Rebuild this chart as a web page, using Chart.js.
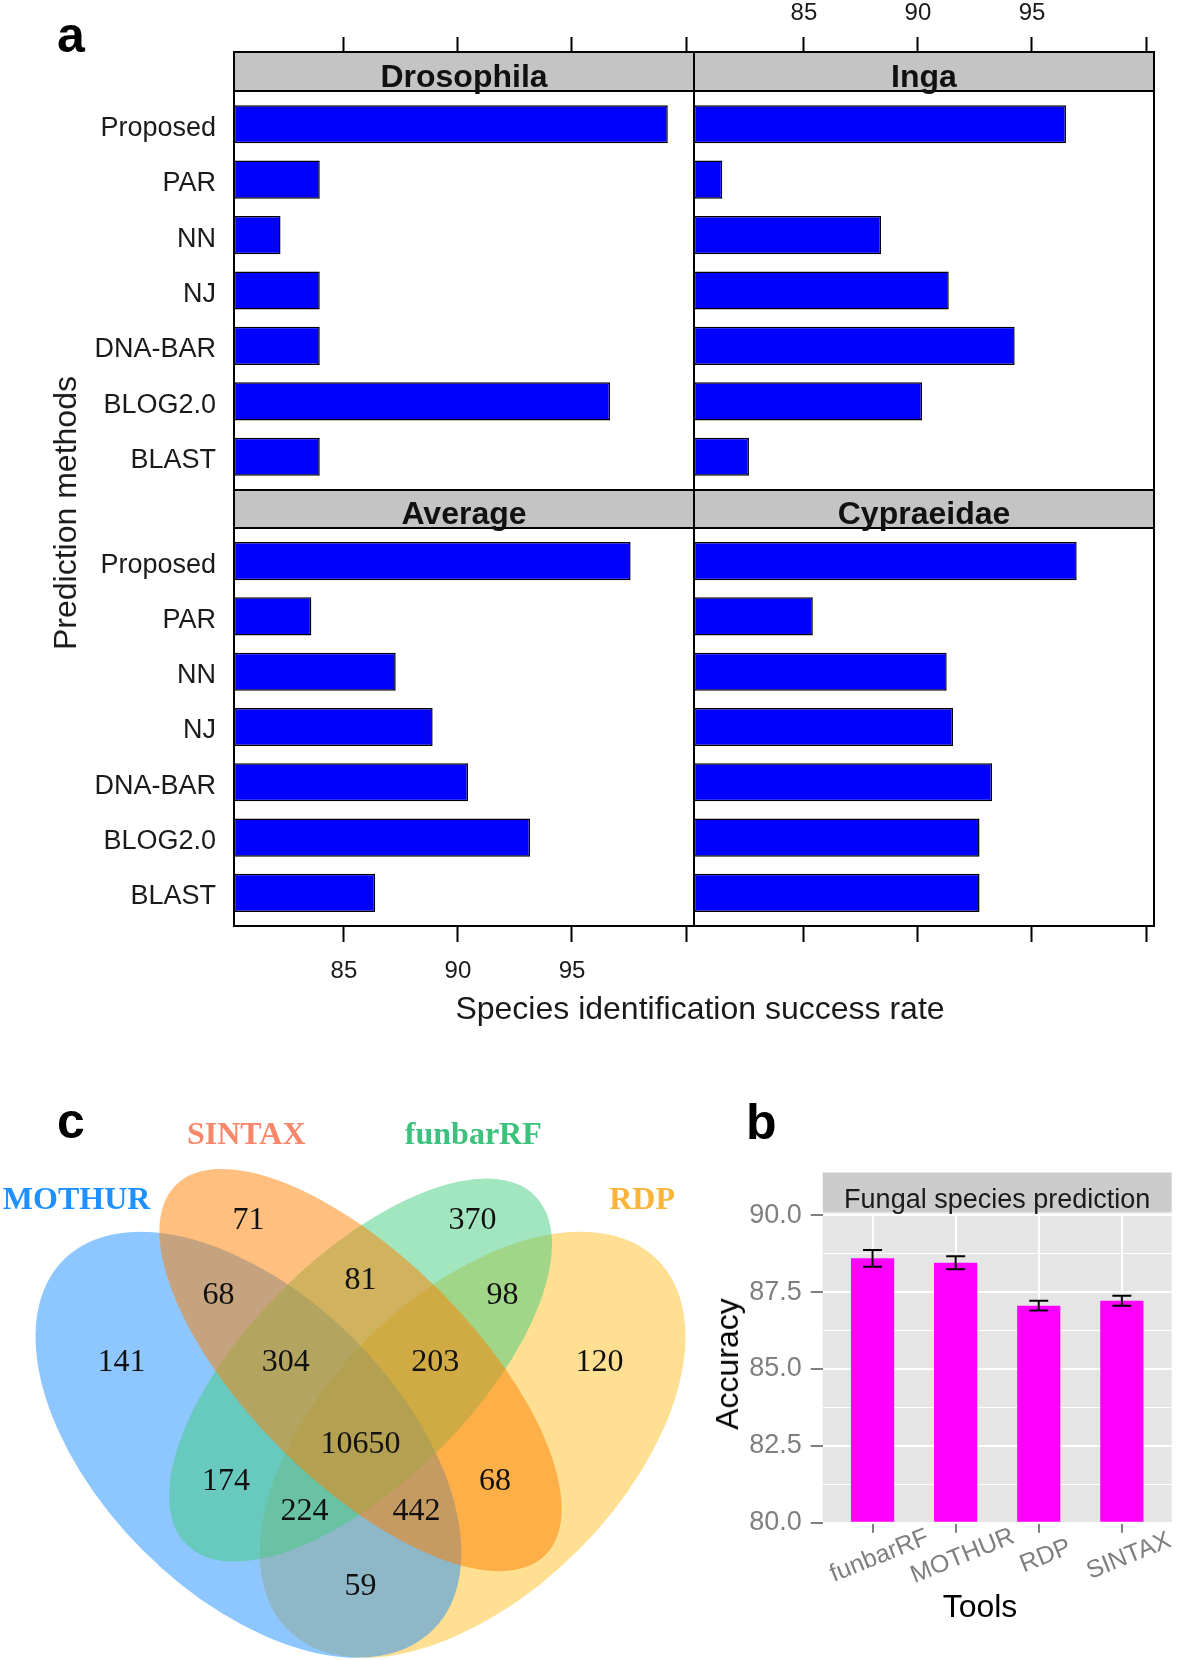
<!DOCTYPE html>
<html>
<head>
<meta charset="utf-8">
<script src="https://cdn.jsdelivr.net/npm/chart.js@4.4.1/dist/chart.umd.min.js"></script>
<style>
  html, body { margin: 0; padding: 0; background: #fff; }
  body { width: 1181px; height: 1660px; position: relative; overflow: hidden; font-family: 'Liberation Sans', Arial, sans-serif; }
  canvas { position: absolute; }
  .lbl { position: absolute; white-space: nowrap; line-height: 1; color: #1a1a1a; }
  .letter { font-weight: bold; font-size: 50px; color: #000; }
  .rot { transform: translate(-50%, -50%) rotate(-90deg); }
  .ctr { transform: translateX(-50%); }
</style>
</head>
<body>
<canvas id="drosophila" width="700" height="500" style="left:0;top:0"></canvas>
<canvas id="inga" width="493" height="500" style="left:688px;top:0"></canvas>
<canvas id="average" width="700" height="560" style="left:0;top:480px"></canvas>
<canvas id="cypraeidae" width="493" height="560" style="left:688px;top:480px"></canvas>
<canvas id="venn" width="740" height="620" style="left:0;top:1040px"></canvas>
<canvas id="fungal" width="436" height="560" style="left:745px;top:1100px"></canvas>

<div class="lbl letter" style="left:57px;top:10px">a</div>
<div class="lbl letter" style="left:57px;top:1096px">c</div>
<div class="lbl letter" style="left:746px;top:1097px">b</div>
<div class="lbl rot" style="left:65px;top:513px;font-size:32px">Prediction methods</div>
<div class="lbl ctr" style="left:700px;top:992px;font-size:32px">Species identification success rate</div>
<div class="lbl rot" style="left:727px;top:1364px;font-size:32px;color:#000">Accuracy</div>
<div class="lbl ctr" style="left:980px;top:1590px;font-size:32px;color:#000">Tools</div>

<script>
// ======================================================
// DATA
// ======================================================
// panel a: species identification success rate per method
const methods = ['Proposed', 'PAR', 'NN', 'NJ', 'DNA-BAR', 'BLOG2.0', 'BLAST'];
const drosophila = [99.2, 83.94, 82.22, 83.94, 83.94, 96.67, 83.94];
const inga = [96.49, 81.42, 88.38, 91.35, 94.24, 90.18, 82.59];
const average = [97.57, 83.57, 87.27, 88.89, 90.44, 93.16, 86.37];
const cypraeidae = [96.96, 85.39, 91.26, 91.54, 93.25, 92.70, 92.70];
const rateTicks = [85, 90, 95, 100];
const rateTickLabels = ['85', '90', '95', ''];
const rateMin = 80.18, rateMax = 100.35;

// panel b: fungal species prediction accuracy
const tools = ['funbarRF', 'MOTHUR', 'RDP', 'SINTAX'];
const accuracy = [88.6, 88.46, 87.06, 87.22];
const accuracyErr = [0.27, 0.21, 0.16, 0.16];
const accTicks = [80, 81.25, 82.5, 83.75, 85, 86.25, 87.5, 88.75, 90];

// panel c: venn region counts
const vennSets = ['MOTHUR', 'SINTAX', 'funbarRF', 'RDP'];
const vennCounts = [71, 81, 370, 68, 304, 10650, 203, 98, 141, 174, 224, 59, 442, 68, 120];

// venn layout (unit square, VennDiagram quad layout)
const vennLabelPos = [
  [0.35, 0.77], [0.5, 0.69], [0.65, 0.77], [0.31, 0.67], [0.40, 0.58],
  [0.5, 0.47], [0.60, 0.58], [0.69, 0.67], [0.18, 0.58], [0.32, 0.42],
  [0.425, 0.38], [0.5, 0.28], [0.575, 0.38], [0.68, 0.42], [0.82, 0.58]
];
const vennSetPos = [[0.12, 0.796], [0.347, 0.884], [0.651, 0.884], [0.877, 0.797]];
const vennSetColors = ['#1e90ff', '#f7876a', '#3dc27e', '#f9b43c'];
// drawing order: RDP, MOTHUR, funbarRF, SINTAX
const vennShapes = [
  { cx: 0.65, cy: 0.47, a: 0.35, b: 0.20, rot: 45, fill: 'rgba(255,193,37,0.5)' },
  { cx: 0.35, cy: 0.47, a: 0.35, b: 0.20, rot: 135, fill: 'rgba(30,144,255,0.5)' },
  { cx: 0.50, cy: 0.57, a: 0.33, b: 0.15, rot: 45, fill: 'rgba(67,205,128,0.5)' },
  { cx: 0.50, cy: 0.57, a: 0.35, b: 0.15, rot: 135, fill: 'rgba(255,127,0,0.5)' }
];

Chart.defaults.font.family = "'Liberation Sans', Arial, sans-serif";

// ======================================================
// PANEL A - lattice style facets
// ======================================================
const stripPlugin = {
  id: 'strip',
  afterDraw(chart, args, o) {
    const { ctx, chartArea: a } = chart;
    ctx.save();
    ctx.fillStyle = '#c4c4c4';
    ctx.fillRect(a.left, a.top - o.height, a.right - a.left, o.height);
    ctx.strokeStyle = '#000';
    ctx.lineWidth = 2;
    ctx.strokeRect(a.left, a.top - o.height, a.right - a.left, o.height);
    ctx.strokeRect(a.left, a.top, a.right - a.left, a.bottom - a.top);
    ctx.fillStyle = '#111';
    ctx.font = "bold 32px 'Liberation Sans', Arial";
    ctx.textAlign = 'center';
    ctx.textBaseline = 'alphabetic';
    ctx.fillText(o.title, (a.left + a.right) / 2, a.top - 4.5);
    ctx.restore();
  }
};

function latticePanel(id, title, values, o) {
  return new Chart(document.getElementById(id), {
    type: 'bar',
    data: {
      datasets: [{
        data: values.map((v, i) => ({ x: v, y: i + 1 })),
        base: rateMin,
        backgroundColor: '#0000ff',
        borderColor: '#000',
        borderWidth: 1.5,
        borderSkipped: false,
        barPercentage: 0.69,
        categoryPercentage: 1
      }]
    },
    options: {
      indexAxis: 'y', responsive: false, animation: false, events: [],
      layout: { padding: o.pad, autoPadding: false },
      plugins: { legend: { display: false }, tooltip: { enabled: false }, strip: { title, height: o.stripH } },
      scales: {
        x: {
          type: 'linear', position: o.xPos, min: rateMin, max: rateMax, offset: false,
          afterBuildTicks: s => { s.ticks = rateTicks.map(v => ({ value: v })); },
          afterFit: s => { s.height = o.xH; s.paddingLeft = 0; s.paddingRight = 0; },
          grid: { drawOnChartArea: false, tickLength: o.tickLen, tickWidth: 2, tickColor: '#000' },
          border: { display: false },
          ticks: {
            padding: o.tickPad, color: '#1a1a1a', maxRotation: 0,
            font: { size: 24, lineHeight: 1 },
            callback: v => o.xLabels ? rateTickLabels[rateTicks.indexOf(v)] : ''
          }
        },
        y: {
          type: 'linear', reverse: true, min: 0.4, max: 7.6, offset: false, display: o.yLabels,
          afterBuildTicks: s => { s.ticks = methods.map((m, i) => ({ value: i + 1 })); },
          afterFit: s => { s.width = o.yLabels ? 234 : 0; s.paddingTop = 0; s.paddingBottom = 0; },
          grid: { display: false, offset: false },
          border: { display: false },
          ticks: {
            padding: 10, labelOffset: 4, color: '#1a1a1a', font: { size: 27, lineHeight: 1 },
            callback: v => methods[v - 1]
          }
        }
      }
    },
    plugins: [stripPlugin]
  });
}

latticePanel('drosophila', 'Drosophila', drosophila, {
  pad: { left: 0, top: 0, right: 6, bottom: 10 }, stripH: 39, xPos: 'top', xH: 91,
  tickLen: 54, tickPad: 12, xLabels: false, yLabels: true
});
latticePanel('inga', 'Inga', inga, {
  pad: { left: 6, top: 0, right: 27, bottom: 10 }, stripH: 39, xPos: 'top', xH: 91,
  tickLen: 54, tickPad: 12, xLabels: true, yLabels: false
});
latticePanel('average', 'Average', average, {
  pad: { left: 0, top: 48, right: 6, bottom: 0 }, stripH: 38, xPos: 'bottom', xH: 114,
  tickLen: 16, tickPad: 17, xLabels: true, yLabels: true
});
latticePanel('cypraeidae', 'Cypraeidae', cypraeidae, {
  pad: { left: 6, top: 48, right: 27, bottom: 0 }, stripH: 38, xPos: 'bottom', xH: 114,
  tickLen: 16, tickPad: 17, xLabels: false, yLabels: false
});

// ======================================================
// PANEL C - venn diagram
// ======================================================
const vennPlugin = {
  id: 'vennShapes',
  beforeDatasetsDraw(chart) {
    const { ctx, scales: { x, y } } = chart;
    const ux = x.getPixelForValue(1) - x.getPixelForValue(0);
    const uy = y.getPixelForValue(0) - y.getPixelForValue(1);
    ctx.save();
    vennShapes.forEach(s => {
      ctx.beginPath();
      ctx.ellipse(x.getPixelForValue(s.cx), y.getPixelForValue(s.cy), s.a * ux, s.b * uy,
        -s.rot * Math.PI / 180, 0, 2 * Math.PI);
      ctx.fillStyle = s.fill;
      ctx.fill();
    });
    ctx.restore();
  },
  afterDatasetsDraw(chart) {
    const { ctx, scales: { x, y } } = chart;
    const meta = chart.getDatasetMeta(0);
    ctx.save();
    ctx.textAlign = 'center';
    ctx.textBaseline = 'middle';
    ctx.fillStyle = '#111';
    ctx.font = "32px 'Liberation Serif', 'Times New Roman', serif";
    meta.data.forEach((pt, i) => ctx.fillText(String(vennCounts[i]), pt.x, pt.y));
    ctx.font = "bold 32px 'Liberation Serif', 'Times New Roman', serif";
    vennSets.forEach((name, i) => {
      ctx.fillStyle = vennSetColors[i];
      ctx.fillText(name, x.getPixelForValue(vennSetPos[i][0]), y.getPixelForValue(vennSetPos[i][1]));
    });
    ctx.restore();
  }
};

new Chart(document.getElementById('venn'), {
  type: 'scatter',
  data: { datasets: [{ data: vennLabelPos.map(p => ({ x: p[0], y: p[1] })), pointRadius: 0, pointHoverRadius: 0 }] },
  options: {
    responsive: false, animation: false, events: [],
    layout: { padding: 0, autoPadding: false },
    plugins: { legend: { display: false }, tooltip: { enabled: false } },
    scales: {
      x: { type: 'linear', display: false, min: 0.0174, max: 1.0080 },
      y: { type: 'linear', display: false, min: 0.1818, max: 1.0118 }
    }
  },
  plugins: [vennPlugin]
});

// ======================================================
// PANEL B - ggplot style bars with error bars
// ======================================================
const isMajor = v => Math.abs(v / 2.5 - Math.round(v / 2.5)) < 1e-6;

const ggPlugin = {
  id: 'ggPanel',
  beforeDraw(chart) {
    const { ctx, chartArea: a } = chart;
    ctx.save();
    ctx.fillStyle = '#e5e5e5';
    ctx.fillRect(a.left, a.top, a.right - a.left, a.bottom - a.top);
    ctx.fillStyle = '#cccccc';
    ctx.fillRect(a.left, a.top - 41, a.right - a.left, 40);
    ctx.fillStyle = '#1a1a1a';
    ctx.font = "27px 'Liberation Sans', Arial";
    ctx.textAlign = 'center';
    ctx.textBaseline = 'alphabetic';
    ctx.fillText('Fungal species prediction', (a.left + a.right) / 2, a.top - 5.5);
    ctx.restore();
  },
  afterDatasetsDraw(chart) {
    const { ctx, scales: { x, y } } = chart;
    ctx.save();
    ctx.strokeStyle = '#000';
    ctx.lineWidth = 2;
    accuracy.forEach((v, i) => {
      const px = x.getPixelForValue(i + 1);
      const top = y.getPixelForValue(v + accuracyErr[i]);
      const bot = y.getPixelForValue(v - accuracyErr[i]);
      ctx.beginPath();
      ctx.moveTo(px, top); ctx.lineTo(px, bot);
      ctx.moveTo(px - 9.5, top); ctx.lineTo(px + 9.5, top);
      ctx.moveTo(px - 9.5, bot); ctx.lineTo(px + 9.5, bot);
      ctx.stroke();
    });
    ctx.restore();
  },
  afterDraw(chart) {
    const { ctx, chartArea: a, scales: { x } } = chart;
    ctx.save();
    ctx.fillStyle = '#7f7f7f';
    ctx.font = "25px 'Liberation Sans', Arial";
    ctx.textAlign = 'center';
    ctx.textBaseline = 'middle';
    tools.forEach((t, i) => {
      ctx.save();
      ctx.translate(x.getPixelForValue(i + 1) + 7, a.bottom + 33.5);
      ctx.rotate(-22 * Math.PI / 180);
      ctx.fillText(t, 0, 0);
      ctx.restore();
    });
    ctx.restore();
  }
};

new Chart(document.getElementById('fungal'), {
  type: 'bar',
  data: {
    datasets: [{
      data: accuracy.map((v, i) => ({ x: i + 1, y: v })),
      base: 80,
      backgroundColor: '#ff00ff',
      borderWidth: 0,
      barPercentage: 0.52,
      categoryPercentage: 1
    }]
  },
  options: {
    responsive: false, animation: false, events: [],
    layout: { padding: { left: 0, top: 113.5, right: 9.3, bottom: 0 }, autoPadding: false },
    plugins: { legend: { display: false }, tooltip: { enabled: false } },
    scales: {
      x: {
        type: 'linear', offset: false, min: 0.4, max: 4.6,
        afterBuildTicks: s => { s.ticks = tools.map((t, i) => ({ value: i + 1 })); },
        afterFit: s => { s.height = 137.3; },
        grid: { offset: false, color: '#ffffff', lineWidth: 2, tickLength: 10, tickColor: '#7f7f7f', tickWidth: 2 },
        border: { display: false },
        ticks: { display: false }
      },
      y: {
        type: 'linear', min: 80, max: 90.06,
        afterBuildTicks: s => { s.ticks = accTicks.map(v => ({ value: v })); },
        afterFit: s => { s.width = 77.7; },
        grid: {
          color: '#ffffff',
          lineWidth: c => isMajor(c.tick.value) ? 2 : 1,
          tickLength: 12,
          tickWidth: 2,
          tickColor: c => isMajor(c.tick.value) ? '#7f7f7f' : 'rgba(0,0,0,0)'
        },
        border: { display: false },
        ticks: {
          padding: 9, color: '#7f7f7f', font: { size: 27, lineHeight: 1 },
          callback: v => isMajor(v) ? v.toFixed(1) : ''
        }
      }
    }
  },
  plugins: [ggPlugin]
});
</script>
</body>
</html>
